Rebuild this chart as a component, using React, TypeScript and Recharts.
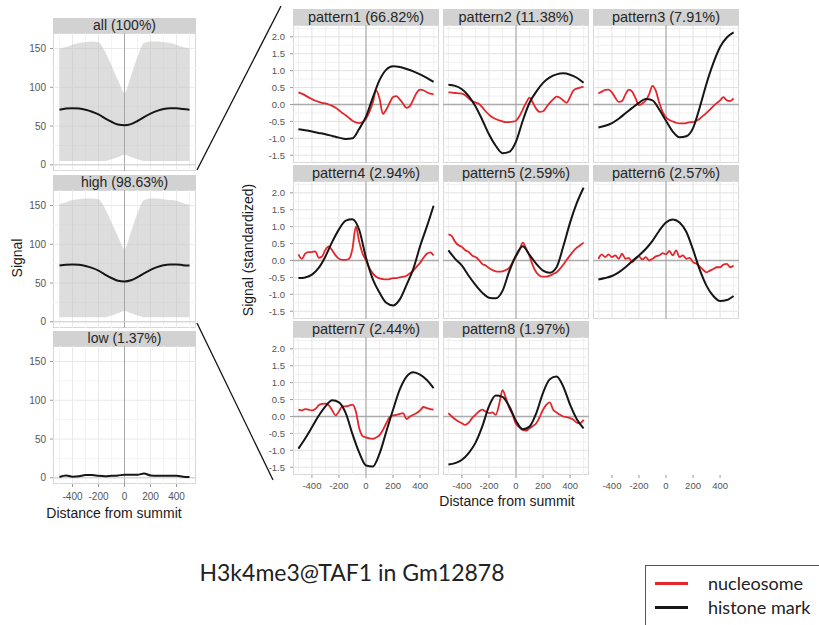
import React from 'react';
import { ComposedChart, Line, Area, XAxis, YAxis, CartesianGrid, ReferenceLine } from 'recharts';

const FONT = '"Liberation Sans", Arial, Helvetica, sans-serif';
const TITLE_FONT = 'Lato, "Open Sans", "Liberation Sans", sans-serif';
const RED = '#e3262b';
const BLACK = '#161616';
const STRIP_BG = '#d2d2d2';

// x positions
const X25 = [-500, -475, -450, -425, -400, -375, -350, -325, -300, -275, -250, -225, -200, -175, -150, -125, -100, -75, -50, -25, 0, 25, 50, 75, 100, 125, 150, 175, 200, 225, 250, 275, 300, 325, 350, 375, 400, 425, 450, 475, 500];
const X50 = [-500, -450, -400, -350, -300, -250, -200, -150, -100, -50, 0, 50, 100, 150, 200, 250, 300, 350, 400, 450, 500];

// tick labels
const X_TICKS = [-400, -200, 0, 200, 400];
const X_MINOR = [-500, -300, -100, 100, 300, 500];
const R_TICKS = [-1.5, -1.0, -0.5, 0.0, 0.5, 1.0, 1.5, 2.0];
const R_MINOR = [-1.25, -0.75, -0.25, 0.25, 0.75, 1.25, 1.75, 2.25];
const L_TICKS = [0, 50, 100, 150];
const L_MINOR = [25, 75, 125];

// left panels
const LEFT_LABELS = ['all (100%)', 'high (98.63%)', 'low (1.37%)'];
const ALL_HI = [150, 152, 155, 157, 158, 159, 158, 146, 128, 109, 93, 115, 139, 157, 159, 159, 158, 157, 155, 152, 150];
const ALL_LO = [5, 5, 5, 5, 5, 5, 5, 5, 7, 10, 13, 10, 7, 5, 5, 5, 5, 5, 5, 5, 5];
const ALL_MEAN = [71, 72.5, 73, 72.5, 71, 68.5, 65, 60, 55.5, 52, 51, 52.5, 56.5, 61.5, 66, 69.5, 72, 73, 73, 72, 71];
const HIGH_HI = [152, 154, 157, 158, 159, 159, 158, 146, 128, 110, 94, 116, 140, 157, 159, 159, 158, 157, 156, 153, 151];
const HIGH_LO = [6, 6, 6, 6, 6, 6, 6, 6, 8, 11, 14, 11, 8, 6, 6, 6, 6, 6, 6, 6, 6];
const HIGH_MEAN = [72.5, 73.5, 74, 73.5, 72, 69.5, 66, 61, 56.5, 53, 52, 53.5, 57.5, 62.5, 67, 70.5, 73, 74, 74, 73, 72.5];
const LOW_MEAN = [1, 3, 1.5, 2, 3.5, 3.5, 2.5, 2, 2.5, 3, 4, 4, 4, 5.5, 3, 2.5, 2.5, 2.5, 2.5, 1.5, 1];

// pattern panels
const PATTERN_LABELS = ['pattern1 (66.82%)', 'pattern2 (11.38%)', 'pattern3 (7.91%)', 'pattern4 (2.94%)', 'pattern5 (2.59%)', 'pattern6 (2.57%)', 'pattern7 (2.44%)', 'pattern8 (1.97%)'];

const P1_RED = [0.36, 0.32, 0.27, 0.21, 0.16, 0.11, 0.08, 0.05, 0.03, 0.0, -0.04, -0.10, -0.17, -0.25, -0.32, -0.40, -0.48, -0.53, -0.55, -0.52, -0.42, -0.22, 0.05, 0.42, 0.18, -0.28, -0.15, 0.05, 0.22, 0.25, 0.15, 0.02, -0.10, -0.05, 0.15, 0.35, 0.44, 0.42, 0.36, 0.32, 0.30];
const P1_BLACK = [-0.73, -0.76, -0.80, -0.84, -0.88, -0.93, -0.98, -1.02, -1.00, -0.72, -0.36, 0.20, 0.72, 1.03, 1.13, 1.11, 1.05, 0.98, 0.89, 0.79, 0.67];
const P2_RED = [0.36, 0.35, 0.34, 0.33, 0.32, 0.27, 0.18, 0.10, 0.06, 0.02, -0.08, -0.20, -0.30, -0.38, -0.43, -0.47, -0.50, -0.52, -0.52, -0.51, -0.48, -0.35, -0.15, 0.05, 0.20, 0.05, -0.13, -0.22, -0.20, -0.08, 0.05, 0.15, 0.23, 0.20, 0.12, 0.05, 0.22, 0.42, 0.47, 0.50, 0.52];
const P2_BLACK = [0.58, 0.55, 0.45, 0.25, -0.05, -0.45, -0.88, -1.22, -1.44, -1.40, -1.10, -0.48, 0.05, 0.38, 0.64, 0.80, 0.89, 0.92, 0.88, 0.79, 0.64];
const P3_RED = [0.33, 0.38, 0.43, 0.44, 0.36, 0.20, 0.08, 0.10, 0.30, 0.44, 0.38, 0.18, -0.02, 0.03, 0.12, 0.30, 0.55, 0.40, 0.05, -0.22, -0.38, -0.46, -0.50, -0.54, -0.56, -0.56, -0.55, -0.52, -0.52, -0.48, -0.42, -0.33, -0.25, -0.15, -0.05, 0.04, 0.12, 0.22, 0.12, 0.10, 0.18];
const P3_BLACK = [-0.68, -0.63, -0.55, -0.42, -0.26, -0.10, 0.05, 0.16, 0.12, -0.15, -0.48, -0.80, -0.97, -0.94, -0.70, -0.08, 0.62, 1.22, 1.70, 1.98, 2.13];
const P4_RED = [0.18, 0.05, 0.20, 0.25, 0.25, 0.27, 0.08, 0.12, 0.32, 0.42, 0.30, 0.15, 0.05, 0.02, 0.02, 0.05, 0.35, 1.00, 0.55, 0.20, 0.0, -0.22, -0.38, -0.48, -0.53, -0.55, -0.56, -0.55, -0.52, -0.52, -0.50, -0.48, -0.45, -0.38, -0.30, -0.18, -0.07, 0.08, 0.20, 0.24, 0.15];
const P4_BLACK = [-0.52, -0.50, -0.42, -0.22, 0.12, 0.55, 0.92, 1.18, 1.22, 0.90, 0.08, -0.55, -0.95, -1.25, -1.33, -1.15, -0.72, -0.25, 0.42, 1.00, 1.62];
const P5_RED = [0.77, 0.72, 0.55, 0.45, 0.40, 0.30, 0.25, 0.15, 0.10, 0.02, -0.10, -0.15, -0.22, -0.28, -0.32, -0.33, -0.32, -0.28, -0.22, -0.05, 0.12, 0.30, 0.53, 0.35, 0.13, -0.15, -0.35, -0.45, -0.48, -0.48, -0.45, -0.40, -0.35, -0.25, -0.12, 0.02, 0.15, 0.28, 0.38, 0.45, 0.53];
const P5_BLACK = [0.30, 0.05, -0.15, -0.45, -0.72, -0.95, -1.10, -1.12, -0.90, -0.32, 0.15, 0.42, 0.17, -0.10, -0.30, -0.36, -0.20, 0.42, 1.12, 1.70, 2.15];
const P6_RED = [0.05, 0.18, 0.10, 0.18, 0.10, 0.15, 0.05, 0.20, 0.05, 0.08, -0.05, 0.05, 0.12, 0.03, 0.10, 0.0, 0.05, 0.12, 0.15, 0.22, 0.18, 0.28, 0.15, 0.30, 0.10, 0.15, 0.05, 0.08, -0.05, -0.10, -0.18, -0.28, -0.35, -0.30, -0.25, -0.20, -0.20, -0.12, -0.10, -0.20, -0.15];
const P6_BLACK = [-0.56, -0.52, -0.46, -0.35, -0.20, -0.02, 0.15, 0.34, 0.58, 0.88, 1.12, 1.21, 1.12, 0.85, 0.32, -0.28, -0.75, -1.05, -1.20, -1.17, -1.05];
const P7_RED = [0.20, 0.18, 0.22, 0.20, 0.18, 0.22, 0.33, 0.37, 0.38, 0.33, 0.18, 0.03, 0.15, 0.30, 0.30, 0.32, 0.35, 0.15, -0.35, -0.58, -0.62, -0.65, -0.66, -0.62, -0.55, -0.40, -0.20, -0.02, 0.03, 0.05, 0.08, 0.10, -0.08, 0.0, 0.05, 0.10, 0.18, 0.28, 0.25, 0.22, 0.20];
const P7_BLACK = [-0.95, -0.65, -0.32, 0.02, 0.30, 0.48, 0.42, 0.10, -0.52, -1.07, -1.45, -1.48, -1.10, -0.45, 0.20, 0.80, 1.18, 1.31, 1.24, 1.08, 0.84];
const P8_RED = [0.10, 0.0, -0.08, -0.15, -0.20, -0.25, -0.18, -0.05, 0.05, 0.15, 0.20, 0.15, 0.10, 0.12, 0.05, 0.35, 0.78, 0.55, 0.25, 0.05, -0.22, -0.32, -0.40, -0.42, -0.35, -0.28, -0.20, -0.02, 0.20, 0.35, 0.42, 0.20, 0.12, 0.05, 0.0, -0.02, -0.05, -0.10, -0.18, -0.20, -0.10];
const P8_BLACK = [-1.42, -1.38, -1.28, -1.08, -0.78, -0.30, 0.30, 0.62, 0.58, 0.30, -0.13, -0.38, -0.30, 0.10, 0.70, 1.10, 1.18, 0.88, 0.35, -0.08, -0.35];

const LEGEND_LABELS = ['nucleosome', 'histone mark'];
const TITLE = 'H3k4me3@TAF1 in Gm12878';
const X_TITLE = 'Distance from summit';

const PATTERNS = [
  { label: PATTERN_LABELS[0], red: P1_RED, black: P1_BLACK },
  { label: PATTERN_LABELS[1], red: P2_RED, black: P2_BLACK },
  { label: PATTERN_LABELS[2], red: P3_RED, black: P3_BLACK },
  { label: PATTERN_LABELS[3], red: P4_RED, black: P4_BLACK },
  { label: PATTERN_LABELS[4], red: P5_RED, black: P5_BLACK },
  { label: PATTERN_LABELS[5], red: P6_RED, black: P6_BLACK },
  { label: PATTERN_LABELS[6], red: P7_RED, black: P7_BLACK },
  { label: PATTERN_LABELS[7], red: P8_RED, black: P8_BLACK },
];

const LEFT_PANELS = [
  { label: LEFT_LABELS[0], hi: ALL_HI, lo: ALL_LO, mean: ALL_MEAN },
  { label: LEFT_LABELS[1], hi: HIGH_HI, lo: HIGH_LO, mean: HIGH_MEAN },
  { label: LEFT_LABELS[2], hi: null as number[] | null, lo: null as number[] | null, mean: LOW_MEAN },
];

const toPts = (xs: number[], ys: number[]) => xs.map((x, i) => ({ x, y: ys[i] }));

// layout
const AXIS_W = 34;
const AXIS_H = 24;
const L_X = 53;
const L_W = 143;
const L_TOPS = [33, 190, 346];
const L_H = 138;
const L_STRIP = 15;
const L_YDOM: [number, number] = [-8, 170];
const L_XDOM: [number, number] = [-550, 550];

const R_X = [293, 443, 593];
const R_W = 146;
const R_TOPS = [25, 181, 337];
const R_H = 138;
const R_STRIP = 16;
const R_YDOM: [number, number] = [-1.73, 2.35];
const R_XDOM: [number, number] = [-540, 540];

const tickStyle = { fontSize: 9.5, fill: '#555555', fontFamily: FONT };

function Strip({ left, top, width, height, text, size }: any) {
  return (
    <div
      style={{
        position: 'absolute', left, top, width, height, background: STRIP_BG,
        fontFamily: FONT, fontSize: size, color: '#262626', textAlign: 'center',
        lineHeight: `${height}px`, whiteSpace: 'nowrap', overflow: 'hidden',
      }}
    >
      {text}
    </div>
  );
}

function Border({ left, top, width, height }: any) {
  return (
    <div style={{ position: 'absolute', left, top, width, height, boxSizing: 'border-box', border: '1px solid #d8d8d8' }} />
  );
}

function RightPanel({ idx }: { idx: number }) {
  const col = idx % 3;
  const row = Math.floor(idx / 3);
  const p = PATTERNS[idx];
  const showY = col === 0;
  const showX = row === 2;
  const aw = showY ? AXIS_W : 0;
  const ah = showX ? AXIS_H : 0;
  const left = R_X[col];
  const top = R_TOPS[row];
  return (
    <>
      <Strip left={left} top={top - R_STRIP} width={R_W} height={R_STRIP} text={p.label} size={14.5} />
      <Border left={left} top={top} width={R_W} height={R_H} />
      <div style={{ position: 'absolute', left: left - aw, top }}>
        <ComposedChart width={R_W + aw} height={R_H + ah} margin={{ top: 0, right: 0, bottom: 0, left: 0 }}>
          <CartesianGrid stroke="#f0f0f0" horizontalValues={R_MINOR} verticalValues={X_MINOR} />
          <CartesianGrid stroke="#e2e2e2" horizontalValues={R_TICKS} verticalValues={X_TICKS} />
          <XAxis type="number" dataKey="x" domain={R_XDOM} ticks={X_TICKS} interval={0} allowDataOverflow hide={!showX}
            height={AXIS_H} tickSize={3} tickMargin={4} axisLine={false} tickLine={{ stroke: '#999' }} tick={tickStyle} />
          <YAxis type="number" dataKey="y" domain={R_YDOM} ticks={R_TICKS} interval={0} allowDataOverflow hide={!showY}
            width={AXIS_W} tickSize={3} tickMargin={5} axisLine={false} tickLine={{ stroke: '#999' }} tick={tickStyle}
            tickFormatter={(v: number) => v.toFixed(1)} />
          <ReferenceLine x={0} stroke="#a3a3a3" strokeWidth={1} />
          <ReferenceLine y={0} stroke="#ababab" strokeWidth={1.6} />
          <Line data={toPts(X25, p.red)} dataKey="y" type="monotone" stroke={RED} strokeWidth={1.8} dot={false} isAnimationActive={false} />
          <Line data={toPts(X50, p.black)} dataKey="y" type="monotone" stroke={BLACK} strokeWidth={2} dot={false} isAnimationActive={false} />
        </ComposedChart>
      </div>
    </>
  );
}

function AxisOnly({ col }: { col: number }) {
  const left = R_X[col];
  const top = R_TOPS[2];
  return (
    <div style={{ position: 'absolute', left, top }}>
      <ComposedChart width={R_W} height={R_H + AXIS_H} margin={{ top: 0, right: 0, bottom: 0, left: 0 }}>
        <XAxis type="number" dataKey="x" domain={R_XDOM} ticks={X_TICKS} interval={0} allowDataOverflow
          height={AXIS_H} tickSize={3} tickMargin={4} axisLine={false} tickLine={{ stroke: '#999' }} tick={tickStyle} />
        <YAxis type="number" dataKey="y" domain={R_YDOM} hide />
        <Line data={toPts(X_TICKS, X_TICKS.map(() => 0))} dataKey="y" stroke="none" dot={false} isAnimationActive={false} />
      </ComposedChart>
    </div>
  );
}

function LeftPanel({ idx }: { idx: number }) {
  const p = LEFT_PANELS[idx];
  const showX = idx === 2;
  const ah = showX ? AXIS_H : 0;
  const top = L_TOPS[idx];
  const data = X50.map((x, i) => ({
    x,
    band: p.hi && p.lo ? [p.lo[i], p.hi[i]] : null,
    mean: p.mean[i],
  }));
  return (
    <>
      <Strip left={L_X} top={top - L_STRIP} width={L_W} height={L_STRIP} text={p.label} size={14} />
      <Border left={L_X} top={top} width={L_W} height={L_H} />
      <div style={{ position: 'absolute', left: L_X - AXIS_W, top }}>
        <ComposedChart width={L_W + AXIS_W} height={L_H + ah} data={data} margin={{ top: 0, right: 0, bottom: 0, left: 0 }}>
          <CartesianGrid stroke="#f4f4f4" horizontalValues={L_MINOR} verticalValues={X_MINOR} />
          <CartesianGrid stroke="#e9e9e9" horizontalValues={L_TICKS} verticalValues={X_TICKS} />
          <XAxis type="number" dataKey="x" domain={L_XDOM} ticks={X_TICKS} interval={0} allowDataOverflow hide={!showX}
            height={AXIS_H} tickSize={3} tickMargin={6} axisLine={false} tickLine={{ stroke: '#999' }} tick={{ ...tickStyle, fontSize: 10 }} />
          <YAxis type="number" domain={L_YDOM} ticks={L_TICKS} interval={0} allowDataOverflow
            width={AXIS_W} tickSize={3} tickMargin={4} axisLine={false} tickLine={{ stroke: '#999' }} tick={{ ...tickStyle, fontSize: 10 }} />
          {p.hi && (
            <Area dataKey="band" type="monotone" stroke="none" fill="#bdbdbd" fillOpacity={0.52} isAnimationActive={false} />
          )}
          <ReferenceLine x={0} stroke="#a8a8a8" strokeWidth={1} />
          <ReferenceLine y={0} stroke="#cfcfcf" strokeWidth={1} />
          <Line dataKey="mean" type="monotone" stroke={BLACK} strokeWidth={2} dot={false} isAnimationActive={false} />
        </ComposedChart>
      </div>
    </>
  );
}

export default function App() {
  return (
    <div
      style={{
        position: 'absolute', left: 0, top: 0, width: 819, height: 625, overflow: 'hidden',
        background: '#ffffff', fontFamily: FONT,
      }}
    >
      {[0, 1, 2].map((i) => (
        <LeftPanel key={`l${i}`} idx={i} />
      ))}
      {PATTERNS.map((_, i) => (
        <RightPanel key={`r${i}`} idx={i} />
      ))}
      <AxisOnly col={2} />

      {/* axis titles */}
      <div style={{ position: 'absolute', left: 17, top: 258, transform: 'translate(-50%, -50%) rotate(-90deg)', fontSize: 14, color: '#1a1a1a', whiteSpace: 'nowrap' }}>Signal</div>
      <div style={{ position: 'absolute', left: 114, top: 513, transform: 'translate(-50%, -50%)', fontSize: 14, color: '#1a1a1a', whiteSpace: 'nowrap' }}>{X_TITLE}</div>
      <div style={{ position: 'absolute', left: 248, top: 250, transform: 'translate(-50%, -50%) rotate(-90deg)', fontSize: 14, color: '#1a1a1a', whiteSpace: 'nowrap' }}>Signal (standardized)</div>
      <div style={{ position: 'absolute', left: 507, top: 501, transform: 'translate(-50%, -50%)', fontSize: 14, color: '#1a1a1a', whiteSpace: 'nowrap' }}>{X_TITLE}</div>

      {/* connector lines */}
      <svg width={819} height={625} style={{ position: 'absolute', left: 0, top: 0, pointerEvents: 'none' }}>
        <line x1={197} y1={170} x2={281} y2={6} stroke="#111" strokeWidth={1.3} />
        <line x1={197} y1={323} x2={273} y2={480} stroke="#111" strokeWidth={1.3} />
      </svg>

      {/* title */}
      <div style={{ position: 'absolute', left: 352, top: 572, transform: 'translate(-50%, -50%)', fontFamily: TITLE_FONT, fontSize: 23, color: '#222', whiteSpace: 'nowrap' }}>{TITLE}</div>

      {/* legend */}
      <div style={{ position: 'absolute', left: 645, top: 565, width: 200, height: 80, boxSizing: 'border-box', border: '1px solid #555', background: '#fff' }}>
        <div style={{ position: 'absolute', left: 9, top: 16, width: 33, height: 3, background: RED }} />
        <div style={{ position: 'absolute', left: 9, top: 40, width: 33, height: 3, background: BLACK }} />
        <div style={{ position: 'absolute', left: 62, top: 17, transform: 'translateY(-50%)', fontFamily: TITLE_FONT, fontSize: 18, color: '#222', whiteSpace: 'nowrap' }}>{LEGEND_LABELS[0]}</div>
        <div style={{ position: 'absolute', left: 62, top: 41, transform: 'translateY(-50%)', fontFamily: TITLE_FONT, fontSize: 18, color: '#222', whiteSpace: 'nowrap' }}>{LEGEND_LABELS[1]}</div>
      </div>
    </div>
  );
}
